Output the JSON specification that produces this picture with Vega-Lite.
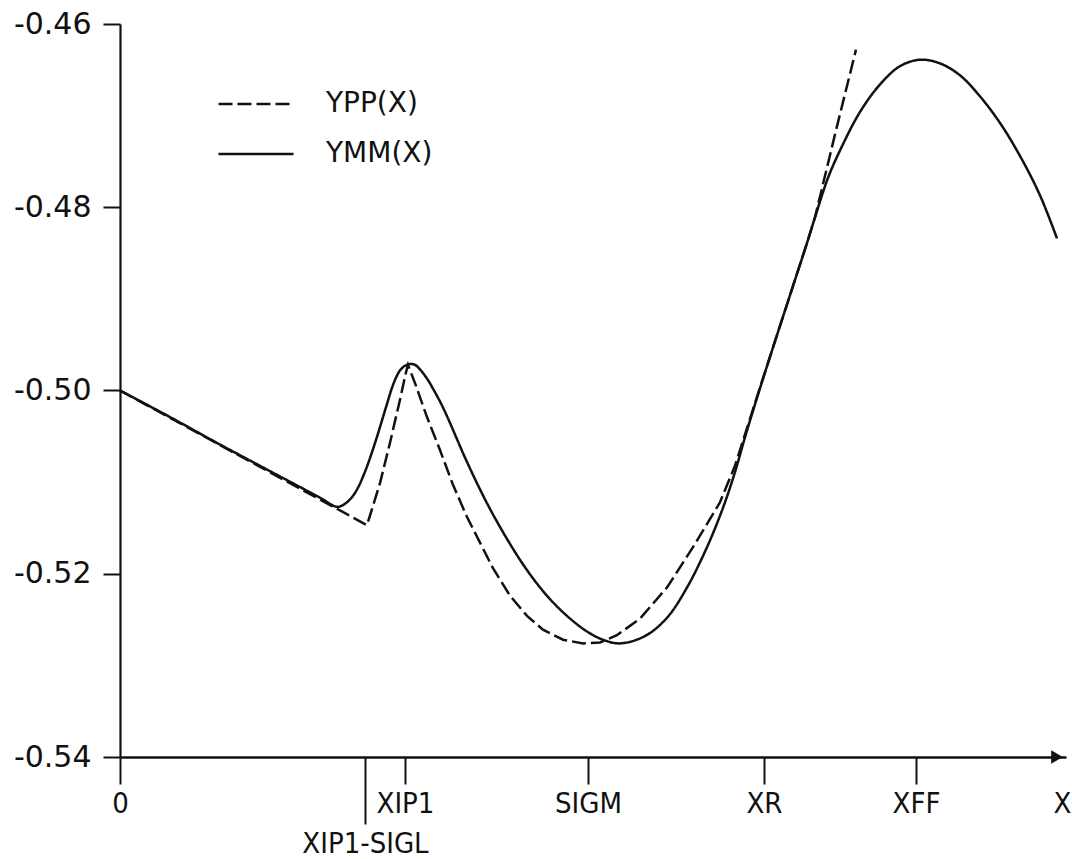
{
  "$schema": "https://vega.github.io/schema/vega-lite/v6.json",
  "width": 946,
  "height": 733,
  "autosize": {"type": "none"},
  "padding": {"left": 120, "top": 24, "right": 6, "bottom": 102},
  "background": "white",
  "config": {
    "view": {"stroke": null},
    "axis": {"grid": false, "domainColor": "#111", "tickColor": "#111", "labelColor": "#111", "domainWidth": 2.2, "tickWidth": 2}
  },
  "datasets": {
    "curves": [
      {"series": "YPP(X)", "x": 0, "y": -0.5000},
      {"series": "YPP(X)", "x": 2.47, "y": -0.5147},
      {"series": "YPP(X)", "x": 2.60, "y": -0.5101},
      {"series": "YPP(X)", "x": 2.70, "y": -0.5057},
      {"series": "YPP(X)", "x": 2.80, "y": -0.5010},
      {"series": "YPP(X)", "x": 2.86, "y": -0.4980},
      {"series": "YPP(X)", "x": 2.88, "y": -0.4972},
      {"series": "YPP(X)", "x": 2.95, "y": -0.4992},
      {"series": "YPP(X)", "x": 3.07, "y": -0.5029},
      {"series": "YPP(X)", "x": 3.20, "y": -0.5065},
      {"series": "YPP(X)", "x": 3.33, "y": -0.5103},
      {"series": "YPP(X)", "x": 3.47, "y": -0.5138},
      {"series": "YPP(X)", "x": 3.60, "y": -0.5166},
      {"series": "YPP(X)", "x": 3.73, "y": -0.5194},
      {"series": "YPP(X)", "x": 3.90, "y": -0.5224},
      {"series": "YPP(X)", "x": 4.07, "y": -0.5246},
      {"series": "YPP(X)", "x": 4.23, "y": -0.5261},
      {"series": "YPP(X)", "x": 4.43, "y": -0.5272},
      {"series": "YPP(X)", "x": 4.63, "y": -0.5276},
      {"series": "YPP(X)", "x": 4.80, "y": -0.5275},
      {"series": "YPP(X)", "x": 4.97, "y": -0.5267},
      {"series": "YPP(X)", "x": 5.20, "y": -0.5249},
      {"series": "YPP(X)", "x": 5.47, "y": -0.5215},
      {"series": "YPP(X)", "x": 5.73, "y": -0.5171},
      {"series": "YPP(X)", "x": 6.00, "y": -0.5122},
      {"series": "YPP(X)", "x": 6.15, "y": -0.5082},
      {"series": "YPP(X)", "x": 6.25, "y": -0.5048},
      {"series": "YPP(X)", "x": 6.37, "y": -0.5007},
      {"series": "YPP(X)", "x": 6.53, "y": -0.4953},
      {"series": "YPP(X)", "x": 6.70, "y": -0.4896},
      {"series": "YPP(X)", "x": 6.87, "y": -0.4839},
      {"series": "YPP(X)", "x": 6.95, "y": -0.4811},
      {"series": "YPP(X)", "x": 7.16, "y": -0.4716},
      {"series": "YPP(X)", "x": 7.36, "y": -0.4628},
      {"series": "YMM(X)", "x": 0, "y": -0.5000},
      {"series": "YMM(X)", "x": 0.5, "y": -0.5029},
      {"series": "YMM(X)", "x": 1.0, "y": -0.5059},
      {"series": "YMM(X)", "x": 1.5, "y": -0.5088},
      {"series": "YMM(X)", "x": 2.0, "y": -0.5117},
      {"series": "YMM(X)", "x": 2.17, "y": -0.5127},
      {"series": "YMM(X)", "x": 2.23, "y": -0.5125},
      {"series": "YMM(X)", "x": 2.28, "y": -0.5121},
      {"series": "YMM(X)", "x": 2.33, "y": -0.5115},
      {"series": "YMM(X)", "x": 2.38, "y": -0.5106},
      {"series": "YMM(X)", "x": 2.43, "y": -0.5094},
      {"series": "YMM(X)", "x": 2.48, "y": -0.5080},
      {"series": "YMM(X)", "x": 2.53, "y": -0.5064},
      {"series": "YMM(X)", "x": 2.58, "y": -0.5047},
      {"series": "YMM(X)", "x": 2.63, "y": -0.5029},
      {"series": "YMM(X)", "x": 2.68, "y": -0.5011},
      {"series": "YMM(X)", "x": 2.72, "y": -0.4997},
      {"series": "YMM(X)", "x": 2.76, "y": -0.4986},
      {"series": "YMM(X)", "x": 2.80, "y": -0.4978},
      {"series": "YMM(X)", "x": 2.85, "y": -0.4973},
      {"series": "YMM(X)", "x": 2.90, "y": -0.4971},
      {"series": "YMM(X)", "x": 2.95, "y": -0.4972},
      {"series": "YMM(X)", "x": 3.00, "y": -0.4977},
      {"series": "YMM(X)", "x": 3.07, "y": -0.4987},
      {"series": "YMM(X)", "x": 3.13, "y": -0.4998},
      {"series": "YMM(X)", "x": 3.20, "y": -0.5012},
      {"series": "YMM(X)", "x": 3.27, "y": -0.5028},
      {"series": "YMM(X)", "x": 3.47, "y": -0.5078},
      {"series": "YMM(X)", "x": 3.67, "y": -0.5123},
      {"series": "YMM(X)", "x": 3.87, "y": -0.5162},
      {"series": "YMM(X)", "x": 4.07, "y": -0.5196},
      {"series": "YMM(X)", "x": 4.27, "y": -0.5224},
      {"series": "YMM(X)", "x": 4.47, "y": -0.5246},
      {"series": "YMM(X)", "x": 4.67, "y": -0.5263},
      {"series": "YMM(X)", "x": 4.83, "y": -0.5272},
      {"series": "YMM(X)", "x": 5.00, "y": -0.5276},
      {"series": "YMM(X)", "x": 5.25, "y": -0.5268},
      {"series": "YMM(X)", "x": 5.47, "y": -0.5248},
      {"series": "YMM(X)", "x": 5.67, "y": -0.5215},
      {"series": "YMM(X)", "x": 5.87, "y": -0.5171},
      {"series": "YMM(X)", "x": 6.03, "y": -0.5128},
      {"series": "YMM(X)", "x": 6.15, "y": -0.5089},
      {"series": "YMM(X)", "x": 6.25, "y": -0.5051},
      {"series": "YMM(X)", "x": 6.37, "y": -0.5008},
      {"series": "YMM(X)", "x": 6.53, "y": -0.4953},
      {"series": "YMM(X)", "x": 6.70, "y": -0.4896},
      {"series": "YMM(X)", "x": 6.87, "y": -0.4839},
      {"series": "YMM(X)", "x": 6.95, "y": -0.4811},
      {"series": "YMM(X)", "x": 7.08, "y": -0.4768},
      {"series": "YMM(X)", "x": 7.20, "y": -0.4738},
      {"series": "YMM(X)", "x": 7.40, "y": -0.4696},
      {"series": "YMM(X)", "x": 7.60, "y": -0.4666},
      {"series": "YMM(X)", "x": 7.80, "y": -0.4646},
      {"series": "YMM(X)", "x": 8.00, "y": -0.4639},
      {"series": "YMM(X)", "x": 8.20, "y": -0.4643},
      {"series": "YMM(X)", "x": 8.40, "y": -0.4656},
      {"series": "YMM(X)", "x": 8.60, "y": -0.4679},
      {"series": "YMM(X)", "x": 8.80, "y": -0.4708},
      {"series": "YMM(X)", "x": 9.00, "y": -0.4744},
      {"series": "YMM(X)", "x": 9.20, "y": -0.4787},
      {"series": "YMM(X)", "x": 9.37, "y": -0.4834}
    ],
    "arrow": [{"x": 9.37, "y": -0.54}]
  },
  "encoding": {
    "x": {
      "field": "x", "type": "quantitative",
      "scale": {"domain": [0, 9.46], "nice": false, "zero": false},
      "axis": {
        "title": null,
        "values": [0, 2.45, 2.85, 4.68, 6.44, 7.96, 9.42],
        "labelExpr": "datum.value == 0 ? '0' : datum.value == 2.45 ? 'XIP1-SIGL' : datum.value == 2.85 ? 'XIP1' : datum.value == 4.68 ? 'SIGM' : datum.value == 6.44 ? 'XR' : datum.value == 7.96 ? 'XFF' : 'X'",
        "tickSize": {"condition": {"test": "datum.value == 2.45", "value": 67}, "value": 27},
        "tickOpacity": {"condition": {"test": "datum.value > 9", "value": 0}, "value": 1},
        "labelPadding": 5,
        "labelFont": "Liberation Sans Narrow, DejaVu Sans Condensed, sans-serif",
        "labelFontSize": 29,
        "labelFlush": false,
        "labelOverlap": false,
        "labelBound": false,
        "domainWidth": 2.5
      }
    },
    "y": {
      "field": "y", "type": "quantitative",
      "scale": {"domain": [-0.54, -0.46], "nice": false, "zero": false},
      "axis": {
        "title": null,
        "values": [-0.54, -0.52, -0.5, -0.48, -0.46],
        "labelExpr": "replace(format(datum.value, '.2f'), '\u2212', '-')",
        "tickSize": 17,
        "labelPadding": 12,
        "labelFont": "DejaVu Sans",
        "labelFontSize": 30,
        "labelFlush": false,
        "labelOverlap": false
      }
    }
  },
  "layer": [
    {
      "data": {"name": "curves"},
      "transform": [{"filter": "datum.series == 'YPP(X)'"}],
      "mark": {"type": "line", "interpolate": "linear", "strokeWidth": 2.5, "color": "#111"},
      "encoding": {
        "strokeDash": {
          "field": "series", "type": "nominal",
          "scale": {"domain": ["YPP(X)", "YMM(X)"], "range": [[14, 5], [1, 0]]},
          "legend": {
            "title": null, "orient": "none", "legendX": 97, "legendY": 68,
            "symbolType": "stroke", "symbolSize": 5625, "symbolStrokeWidth": 2.5,
            "symbolStrokeColor": "#111", "labelFont": "DejaVu Sans", "labelFontSize": 28,
            "labelColor": "#111", "labelOffset": 31, "clipHeight": 24, "rowPadding": 22, "padding": 0, "labelLimit": 400
          }
        }
      }
    },
    {
      "data": {"name": "curves"},
      "transform": [{"filter": "datum.series == 'YMM(X)'"}],
      "mark": {"type": "line", "interpolate": "catmull-rom", "strokeWidth": 2.5, "color": "#111"},
      "encoding": {
        "strokeDash": {"field": "series", "type": "nominal", "scale": {"domain": ["YPP(X)", "YMM(X)"], "range": [[14, 5], [1, 0]]}}
      }
    },
    {
      "data": {"name": "arrow"},
      "mark": {"type": "point", "shape": "triangle-right", "filled": true, "size": 180, "color": "#111", "opacity": 1}
    }
  ]
}
